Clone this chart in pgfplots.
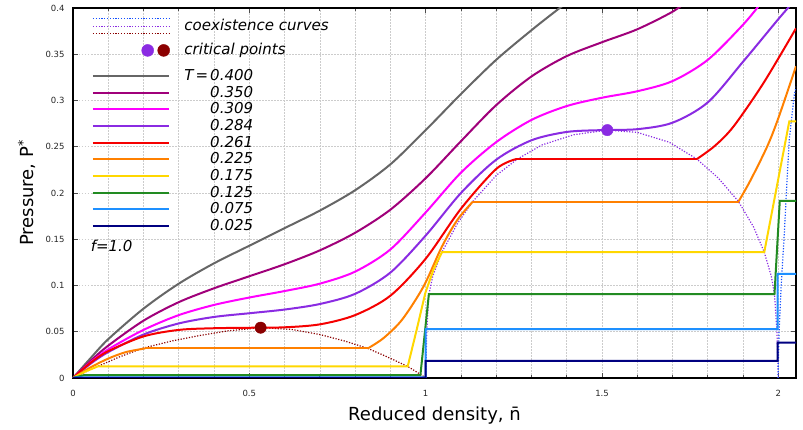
\documentclass[border=0pt]{standalone}
\usepackage{pgfplots}
\pgfplotsset{compat=1.18}
\usepackage{fontspec}
\setmainfont{DejaVu Sans}
\definecolor{cgray}{RGB}{102,102,102}
\definecolor{cdmag}{RGB}{160,0,122}
\definecolor{cmag}{RGB}{255,0,255}
\definecolor{cvio}{RGB}{138,43,226}
\definecolor{cred}{RGB}{245,0,0}
\definecolor{corange}{RGB}{255,128,0}
\definecolor{cyellow}{RGB}{255,215,0}
\definecolor{cgreen}{RGB}{34,139,34}
\definecolor{cblue}{RGB}{30,144,255}
\definecolor{cnavy}{RGB}{0,0,128}
\definecolor{cdred}{RGB}{139,0,0}
\definecolor{cdotblue}{RGB}{20,80,255}
\tikzset{coex/.style={line width=1.2pt, dash pattern=on 1.2pt off 1.6pt}}
\begin{document}
\begin{tikzpicture}
\useasboundingbox (-73pt,-52pt) rectangle (730pt,378pt);
\begin{axis}[
  at={(0pt,0pt)}, anchor=south west,
  scale only axis, width=723pt, height=370pt,
  xmin=0, xmax=2.05, ymin=0, ymax=0.4,
  xtick={0,0.5,1,1.5,2}, ytick={0,0.05,0.1,0.15,0.2,0.25,0.3,0.35,0.4},
  minor x tick num=4,
  xmajorgrids, xminorgrids, ymajorgrids,
  major grid style={gray!40, line width=0.7pt, dash pattern=on 1.5pt off 1.5pt},
  minor grid style={gray!40, line width=0.7pt, dash pattern=on 1.5pt off 1.5pt},
  tick align=inside,
  major tick length=5pt, minor tick length=3pt,
  tick style={black!70, line width=0.8pt},
  axis line style={line width=1.5pt},
  scaled ticks=false,
  /pgf/number format/assume math mode=true,
  ticklabel style={font=\fontsize{8.5}{10}\selectfont, text=black!85},
  xticklabel style={yshift=-9pt},
  yticklabel style={xshift=-5pt, /pgf/number format/fixed, /pgf/number format/precision=2},
  xlabel={Reduced density, \={n}},
  ylabel={Pressure, P\textsuperscript{*}},
  xlabel shift=3pt, ylabel shift=3pt,
  label style={font=\fontsize{18}{21}\selectfont},
  legend image code/.code={\draw[#1] (0pt,4.5pt) -- (76pt,4.5pt);},
  legend cell align=left,
  legend style={draw=none, fill=none, inner sep=0pt, outer sep=0pt,
    at={(axis description cs:0,1)}, anchor=north west, xshift=19pt, yshift=-10.2pt,
    font=\itshape\fontsize{15}{15}\selectfont,
    cells={anchor=base west},
    nodes={text height=12pt, text depth=4pt, inner sep=0pt},
    row sep=0.7pt, column sep=14.5pt},
]
% coexistence curves
\addplot[coex, cdred, forget plot] coordinates {(0,0) (0.035,0.0065) (0.07,0.0125) (0.13,0.0225) (0.196,0.032) (0.28,0.040) (0.36,0.046) (0.44,0.051) (0.532,0.0544) (0.62,0.0525) (0.7,0.047) (0.77,0.040) (0.836,0.032) (0.89,0.023) (0.949,0.0125) (0.985,0.004) (1.0,0)};
\addplot[coex, cvio, forget plot] coordinates {(1.0,0) (1.003,0.05) (1.009,0.09) (1.02,0.11) (1.046,0.136) (1.09,0.167) (1.134,0.191) (1.2,0.219) (1.26,0.2367) (1.33,0.252) (1.42,0.263) (1.515,0.268) (1.6,0.2655) (1.69,0.255) (1.769,0.2367) (1.83,0.216) (1.887,0.1908) (1.93,0.163) (1.96,0.136) (1.98,0.11) (1.989,0.0906) (1.996,0.05) (2.0,0)};
\addplot[coex, cdotblue, forget plot] coordinates {(1.999,0) (2.002,0.05) (2.008,0.1) (2.017,0.157) (2.024,0.21) (2.031,0.258) (2.045,0.306) (2.06,0.33)};
% T = 0.400
\addplot[cgray, line width=2pt, smooth, forget plot] coordinates {(0,0) (0.05,0.0215) (0.1,0.042) (0.2,0.075) (0.3,0.102) (0.4,0.124) (0.5,0.143) (0.6,0.162) (0.7,0.181) (0.8,0.203) (0.9,0.231) (1.0,0.268) (1.1,0.307) (1.2,0.344) (1.3,0.376) (1.38,0.40) (1.45,0.42)};
% T = 0.350
\addplot[cdmag, line width=2pt, smooth, forget plot] coordinates {(0,0) (0.05,0.0185) (0.1,0.035) (0.2,0.062) (0.3,0.082) (0.4,0.097) (0.5,0.110) (0.6,0.123) (0.7,0.138) (0.8,0.157) (0.9,0.182) (1.0,0.216) (1.1,0.256) (1.2,0.295) (1.3,0.326) (1.4,0.348) (1.5,0.363) (1.6,0.377) (1.7,0.396) (1.75,0.41)};
% T = 0.309
\addplot[cmag, line width=2pt, smooth, forget plot] coordinates {(0,0) (0.05,0.017) (0.1,0.031) (0.2,0.052) (0.3,0.068) (0.4,0.079) (0.5,0.087) (0.6,0.094) (0.7,0.102) (0.8,0.115) (0.9,0.139) (1.0,0.179) (1.1,0.222) (1.2,0.255) (1.3,0.279) (1.4,0.294) (1.5,0.303) (1.6,0.310) (1.7,0.321) (1.8,0.344) (1.9,0.382) (1.95,0.405)};
% T = 0.284
\addplot[cvio, line width=2pt, smooth, forget plot] coordinates {(0,0) (0.05,0.0155) (0.1,0.028) (0.2,0.047) (0.3,0.059) (0.4,0.066) (0.5,0.070) (0.6,0.074) (0.7,0.080) (0.8,0.091) (0.9,0.114) (1.0,0.154) (1.1,0.200) (1.2,0.236) (1.3,0.257) (1.4,0.266) (1.5,0.268) (1.6,0.269) (1.7,0.276) (1.8,0.298) (1.9,0.342) (2.0,0.388) (2.05,0.41)};
% T = 0.261
\addplot[cred, line width=2pt, smooth, forget plot] coordinates {(0,0) (0.05,0.0165) (0.1,0.029) (0.2,0.045) (0.3,0.052) (0.4,0.0538) (0.5,0.0543) (0.6,0.0548) (0.7,0.058) (0.8,0.068) (0.9,0.089) (1.0,0.129) (1.1,0.183) (1.2,0.226) (1.257,0.2367)};
\addplot[cred, line width=2pt, forget plot] coordinates {(1.257,0.2367) (1.769,0.2367)};
\addplot[cred, line width=2pt, smooth, forget plot] coordinates {(1.769,0.2367) (1.82,0.251) (1.873,0.272) (1.958,0.319) (2.05,0.378)};
% T = 0.225
\addplot[corange, line width=2pt, smooth, forget plot] coordinates {(0,0) (0.05,0.0115) (0.1,0.021) (0.15,0.028) (0.205,0.032)};
\addplot[corange, line width=2pt, forget plot] coordinates {(0.205,0.032) (0.836,0.032)};
\addplot[corange, line width=2pt, smooth, forget plot] coordinates {(0.836,0.032) (0.88,0.043) (0.933,0.063) (0.994,0.099) (1.046,0.142) (1.09,0.171) (1.134,0.1908)};
\addplot[corange, line width=2pt, forget plot] coordinates {(1.134,0.1908) (1.887,0.1908)};
\addplot[corange, line width=2pt, smooth, forget plot] coordinates {(1.887,0.1908) (1.92,0.213) (1.968,0.25) (2.0,0.281) (2.05,0.337)};
% T = 0.175
\addplot[cyellow, line width=2pt, forget plot] coordinates {(0,0) (0.035,0.007) (0.07,0.0125) (0.949,0.0125) (0.975,0.053) (0.999,0.092) (1.022,0.117) (1.046,0.136) (1.96,0.136) (2.031,0.2775) (2.06,0.2775)};
% T = 0.125
\addplot[cgreen, line width=2pt, forget plot] coordinates {(0,0) (0.03,0.003) (0.985,0.003) (1.009,0.0906) (1.989,0.0906) (2.004,0.1916) (2.06,0.1916)};
% T = 0.075
\addplot[cblue, line width=2pt, forget plot] coordinates {(0,0) (0.01,0.0008) (1.0,0.0008) (1.0,0.0527) (1.998,0.0527) (1.998,0.1126) (2.06,0.1126)};
% T = 0.025
\addplot[cnavy, line width=2pt, forget plot] coordinates {(0,0) (1.0,0.0002) (1.0,0.0184) (1.998,0.0184) (1.998,0.0382) (2.06,0.0382)};
% critical points
\addplot[only marks, mark=*, mark size=5.7pt, cvio, forget plot] coordinates {(1.515,0.268)};
\addplot[only marks, mark=*, mark size=5.7pt, cdred, forget plot] coordinates {(0.532,0.0544)};
% legend
\addlegendimage{legend image code/.code={
  \draw[coex, cdotblue] (0pt,11.9pt) -- (76pt,11.9pt);
  \draw[coex, cvio] (0pt,4.5pt) -- (76pt,4.5pt);
  \draw[coex, cdred] (0pt,-3.1pt) -- (76pt,-3.1pt);}}
\addlegendentry[text depth=11.5pt]{coexistence curves}
\addlegendimage{legend image code/.code={
  \fill[cvio] (54.7pt,4.5pt) circle (6pt);
  \fill[cdred] (70.7pt,4.5pt) circle (6pt);}}
\addlegendentry[text depth=12.8pt]{critical points}
\addlegendimage{cgray, line width=2pt}
\addlegendentry{T\kern2pt=\kern2pt0.400}
\addlegendimage{cdmag, line width=2pt}
\addlegendentry{\phantom{T\kern2pt=\kern2pt}0.350}
\addlegendimage{cmag, line width=2pt}
\addlegendentry{\phantom{T\kern2pt=\kern2pt}0.309}
\addlegendimage{cvio, line width=2pt}
\addlegendentry{\phantom{T\kern2pt=\kern2pt}0.284}
\addlegendimage{cred, line width=2pt}
\addlegendentry{\phantom{T\kern2pt=\kern2pt}0.261}
\addlegendimage{corange, line width=2pt}
\addlegendentry{\phantom{T\kern2pt=\kern2pt}0.225}
\addlegendimage{cyellow, line width=2pt}
\addlegendentry{\phantom{T\kern2pt=\kern2pt}0.175}
\addlegendimage{cgreen, line width=2pt}
\addlegendentry{\phantom{T\kern2pt=\kern2pt}0.125}
\addlegendimage{cblue, line width=2pt}
\addlegendentry{\phantom{T\kern2pt=\kern2pt}0.075}
\addlegendimage{cnavy, line width=2pt}
\addlegendentry{\phantom{T\kern2pt=\kern2pt}0.025}
\node[anchor=west, font=\itshape\fontsize{15}{15}\selectfont, inner sep=0pt] at (axis cs:0.05,0.143) {f=1.0};
\end{axis}
\end{tikzpicture}
\end{document}
